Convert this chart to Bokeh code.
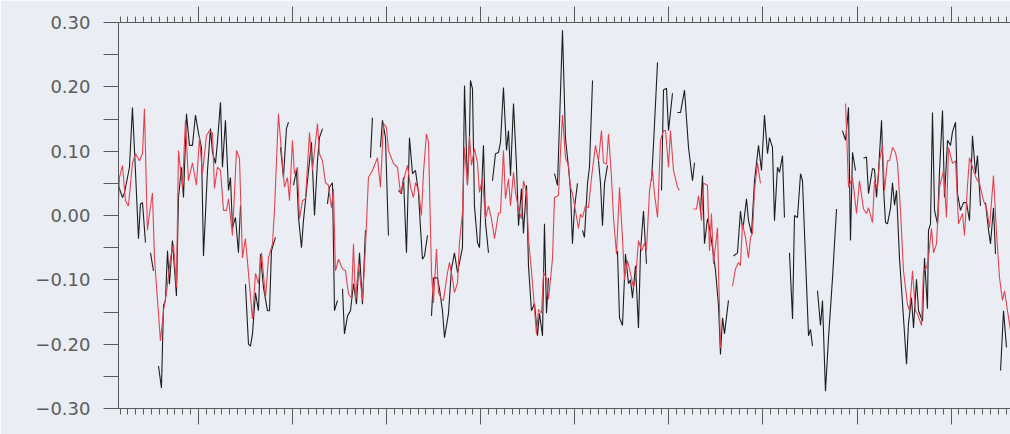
from bokeh.plotting import figure
from bokeh.models import Range1d, LinearAxis, FixedTicker, CustomJSTickFormatter
from bokeh.embed import file_html
from bokeh.resources import INLINE

# ---- data: time in months after first major (year) tick, anomaly values ----
black_t = [
    [-10.20, -9.69, -9.44, -8.80, -8.42, -8.04, -7.65, -7.40, -7.14, -6.76],
    [-6.12, -5.74],
    [-5.10, -4.72, -4.46, -4.21, -3.95, -3.70, -3.32, -2.81, -2.55, -2.17,
     -1.91, -1.53, -1.15, -0.77, -0.38, 0.00, 0.38, 0.64, 1.15, 1.53,
     1.79, 2.17, 2.42, 2.81, 3.06, 3.44, 3.83, 4.08, 4.34, 4.72, 5.10, 5.36],
    [5.99, 6.38, 6.63, 6.89, 7.27, 7.65, 7.91, 8.29, 8.80, 9.06, 9.31, 9.82],
    [10.46, 10.84, 11.22, 11.48],
    [12.12, 12.50, 12.76, 13.14, 13.39, 13.78, 14.41, 14.80, 15.18, 15.43, 15.82],
    [16.45, 16.71, 17.09, 17.35, 17.73],
    [18.37, 18.62, 19.01, 19.39, 19.77, 20.15, 20.54, 20.92, 21.30],
    [21.94, 22.19],
    [23.21, 23.47, 23.85, 24.23],
    [25.51, 25.89, 26.15, 26.53, 26.91, 27.30, 27.68, 28.06, 28.32, 28.57, 28.83, 29.21],
    [29.72, 29.97, 30.48, 30.74, 31.12, 31.38, 31.89, 32.27, 32.65, 33.04,
     33.67, 33.93, 34.31, 34.57, 34.69, 34.95, 35.20, 35.59, 35.84, 36.22,
     36.35, 36.61, 36.99],
    [37.50, 37.88, 38.27, 38.52, 38.90, 39.29, 39.54, 39.80, 40.18, 40.56,
     40.82, 41.20, 41.45, 41.84, 42.09, 42.47, 42.86, 43.24, 43.49, 43.88,
     44.13, 44.39, 44.64],
    [45.41, 45.79, 46.05, 46.43, 46.81, 47.19, 47.45, 47.70, 47.96, 48.34],
    [48.98, 49.23, 49.62, 49.87, 50.26],
    [51.02, 51.28, 51.53, 51.79, 52.17],
    [53.44, 53.70, 54.08, 54.46, 54.85, 55.10, 55.36, 55.74, 56.12, 56.38, 56.76, 57.14],
    [57.78, 58.04, 58.55],
    [59.06, 59.31, 59.69, 59.95, 60.46],
    [61.10, 61.48, 61.99, 62.50, 63.01, 63.27],
    [64.03, 64.29, 64.54, 64.92, 65.18, 65.56, 65.94, 66.33, 66.58, 66.84, 67.09, 67.60],
    [68.24, 68.75, 69.13, 69.39, 69.52, 69.90, 70.15, 70.54, 70.92, 71.43,
     71.81, 72.19, 72.58, 72.83, 73.21, 73.47, 73.85, 74.11, 74.49, 74.74],
    [75.38, 75.77, 76.02, 76.40, 76.79, 77.04, 77.42, 77.81, 78.06, 78.32],
    [78.95, 79.34, 79.59, 79.97, 80.36, 80.87, 81.38],
    [82.14, 82.53, 82.91, 83.16, 83.42, 83.80],
    [84.82, 85.20, 85.46, 85.97, 86.22, 86.48, 86.73, 87.12, 87.37, 87.63,
     87.88, 88.27, 88.52, 88.78, 89.03, 89.41, 89.92, 90.31, 90.56, 90.94,
     91.20, 91.58, 91.84, 92.35, 92.60, 92.98, 93.11, 93.37, 93.62, 93.88,
     94.26, 94.52, 94.90, 95.15, 95.54, 95.92, 96.17, 96.56, 96.81, 97.19,
     97.58, 97.96, 98.34, 98.72, 99.11, 99.36, 99.74],
    [100.38, 100.77, 101.02, 101.40, 101.66],
    [102.30, 102.68, 103.06],
]
black_v = [
    [0.046, 0.028, 0.035, 0.075, 0.168, 0.070, -0.036, 0.018, 0.020, -0.042],
    [-0.058, -0.086],
    [-0.234, -0.268, -0.140, -0.132, -0.055, -0.107, -0.039, -0.125, 0.028, 0.075,
     0.028, 0.158, 0.109, 0.109, 0.156, 0.128, 0.106, -0.063, 0.070, 0.135,
     0.098, 0.081, 0.114, 0.176, 0.075, 0.148, 0.039, 0.059, -0.019, -0.003, -0.058, 0.015],
    [-0.107, -0.200, -0.203, -0.184, -0.120, -0.148, -0.060, -0.112, -0.148, -0.148, -0.055, -0.034],
    [0.106, 0.059, 0.135, 0.145],
    [0.047, 0.070, -0.003, -0.050, -0.008, 0.039, 0.114, 0.000, 0.085, 0.121, 0.135],
    [0.018, 0.044, 0.051, -0.148, -0.132],
    [-0.114, -0.184, -0.156, -0.148, -0.106, -0.138, -0.058, -0.138, -0.023],
    [0.090, 0.152],
    [0.106, 0.148, 0.121, -0.031],
    [0.039, 0.034, 0.059, -0.058, 0.121, 0.065, 0.070, 0.036, -0.020, -0.068, -0.063, -0.031],
    [-0.156, -0.097, -0.097, -0.114, -0.148, -0.190, -0.152, -0.083, -0.058, -0.089,
     -0.050, 0.202, 0.047, 0.124, 0.210, 0.197, 0.015, -0.042, -0.050, 0.073,
     0.109, -0.011, -0.058],
    [0.054, 0.096, 0.098, 0.114, 0.199, 0.101, 0.132, 0.062, 0.174, 0.078,
     -0.016, 0.042, -0.028, 0.047, -0.078, -0.148, -0.137, -0.187, -0.152, -0.187,
     -0.013, -0.152, -0.097],
    [0.065, 0.047, 0.145, 0.288, 0.120, 0.075, 0.039, -0.044, 0.012, 0.050],
    [-0.023, -0.034, 0.050, 0.075, 0.210],
    [0.085, 0.050, -0.016, 0.050, 0.078],
    [-0.055, -0.159, -0.171, -0.060, -0.106, -0.100, -0.128, -0.078, -0.175, -0.055, 0.007, -0.075],
    [0.054, 0.111, 0.238],
    [0.039, 0.195, 0.198, 0.132, 0.190],
    [0.160, 0.160, 0.195, 0.106, 0.054, 0.082],
    [0.007, 0.062, -0.044, -0.005, -0.019, -0.050, -0.085, -0.140, -0.216, -0.159, -0.184, -0.132],
    [-0.063, -0.058, 0.007, -0.020, -0.013, 0.026, -0.008, -0.028, 0.054, 0.109,
     0.070, 0.156, 0.096, 0.121, 0.106, -0.008, 0.075, 0.067, 0.093, -0.003],
    [-0.058, -0.161, 0.000, -0.003, 0.065, 0.054, -0.066, -0.187, -0.177, -0.203],
    [-0.117, -0.171, -0.132, -0.273, -0.190, -0.097, 0.010],
    [0.132, 0.117, 0.168, -0.039, 0.098, 0.070],
    [0.089, 0.091, 0.034, 0.073, 0.072, 0.028, 0.067, 0.148, 0.044, -0.011,
     -0.013, 0.012, 0.051, 0.016, 0.039, -0.066, -0.159, -0.231, -0.168, -0.128,
     -0.175, -0.099, -0.148, -0.164, -0.066, -0.145, -0.023, -0.013, 0.160, 0.008,
     -0.013, 0.070, 0.163, 0.028, 0.117, 0.109, 0.130, 0.145, 0.034, 0.008,
     0.020, 0.020, -0.008, 0.124, 0.065, 0.093, 0.015],
    [0.020, -0.023, -0.044, 0.012, -0.060],
    [-0.241, -0.148, -0.205],
]

red_t = [
    [-10.20, -10.08, -9.69, -9.31, -8.93, -8.42, -8.04, -7.53, -7.14, -6.89,
     -6.51, -6.25, -5.87, -5.61, -4.85, -4.46, -4.08, -3.57, -3.19, -2.81,
     -2.55, -2.04, -1.66, -1.28, -0.77, -0.26, 0.13, 0.51, 1.02, 1.40,
     1.79, 2.04, 2.42, 2.81, 3.19, 3.57, 3.83, 4.34, 4.85, 5.23,
     5.61, 5.99, 6.38, 6.89, 7.27, 7.65, 8.04, 8.55, 8.93, 9.44,
     9.69, 10.20, 10.71, 10.97, 11.35, 11.61, 11.99, 12.24, 12.63, 12.88,
     13.27, 13.65, 14.16, 14.54, 15.18, 15.43, 15.82, 16.20, 16.58, 16.96,
     17.22, 17.47, 17.86, 18.37, 18.75, 19.13, 19.52, 19.77, 20.03, 20.41,
     20.92, 21.30, 21.68, 22.19, 22.83, 23.21, 23.60, 23.98, 24.23, 24.87,
     25.38, 25.77, 26.15, 26.66, 27.04, 27.42, 27.68, 28.06, 28.44, 28.70,
     29.08, 29.34, 29.72, 29.97, 30.36, 30.61, 30.99, 31.25, 31.76, 32.02,
     32.40, 32.65, 33.04, 33.29, 33.67, 33.93, 34.31, 34.57, 34.82, 35.20,
     35.59, 35.84, 36.22, 36.61, 36.99, 37.37, 37.76, 38.27, 38.52, 38.90,
     39.16, 39.54, 39.80, 40.18, 40.43, 40.82, 41.20, 41.45, 41.84, 42.09,
     42.47, 42.73, 43.11, 43.37, 43.75, 44.01, 44.39, 44.64, 45.15, 45.41,
     45.92, 46.17, 46.43, 46.81, 47.19, 47.45, 47.70, 48.09, 48.47, 48.72,
     48.98, 49.36, 49.74, 50.13, 50.64, 51.02, 51.40, 51.66, 52.04, 52.30,
     52.68, 52.93, 53.32, 53.70, 54.08, 54.34, 54.72, 55.10, 55.48, 55.74,
     56.12, 56.51, 56.89, 57.14, 57.53, 57.91, 58.16, 58.55, 58.93, 59.31,
     59.57, 59.95, 60.20, 60.59, 61.10, 61.35],
    [63.14, 63.52, 63.78, 64.16, 64.41, 64.92, 65.18, 65.43, 65.69, 66.20, 66.33, 66.58],
    [68.11, 68.49, 68.88, 69.13, 69.39, 69.77, 70.15, 70.41, 70.66, 70.92, 71.30, 71.68],
    [82.53, 82.91, 83.42, 83.93, 84.31, 84.82, 85.20, 85.46, 85.97, 86.22,
     86.61, 86.86, 87.24, 87.50, 87.88, 88.14, 88.52, 88.90, 89.16, 89.54,
     89.92, 90.43, 90.69, 91.07, 91.45, 91.71, 92.22, 92.47, 92.86, 93.11,
     93.49, 93.75, 94.13, 94.52, 95.03, 95.41, 95.66, 96.17, 96.56, 96.94,
     97.45, 97.70, 98.09, 98.34, 98.85, 99.23, 99.62, 100.13, 100.51, 100.89,
     101.40, 101.79, 102.17, 102.55, 102.81, 103.19, 103.57],
]
red_v = [
    [0.023, 0.059, 0.078, 0.023, 0.015, 0.081, 0.096, 0.085, 0.096, 0.166,
     -0.023, 0.003, 0.035, -0.066, -0.195, -0.148, -0.120, -0.066, -0.044, -0.112,
     0.101, 0.043, 0.148, 0.054, 0.082, 0.047, 0.121, 0.065, 0.124, 0.132,
     0.128, 0.042, 0.075, 0.070, 0.008, 0.008, 0.026, -0.031, 0.101, 0.089,
     -0.066, -0.036, -0.090, -0.161, -0.090, -0.106, -0.058, -0.128, -0.066, -0.044,
     0.007, 0.158, 0.081, 0.044, 0.059, 0.023, 0.117, 0.065, 0.075, -0.005,
     0.023, 0.026, 0.129, 0.070, 0.143, 0.096, 0.085, 0.051, 0.047, 0.012,
     0.041, -0.086, -0.068, -0.083, -0.086, -0.122, -0.128, -0.044, -0.132, -0.075,
     -0.132, -0.050, 0.059, 0.070, 0.090, 0.044, 0.143, 0.137, 0.101, 0.081,
     0.075, 0.034, 0.054, 0.078, 0.044, 0.028, 0.051, 0.040, 0.000, 0.067,
     0.127, 0.114, -0.089, -0.136, -0.052, -0.120, -0.130, -0.132, -0.089, -0.073,
     -0.098, -0.120, -0.105, -0.042, 0.004, 0.106, 0.047, 0.124, 0.078, 0.104,
     0.082, 0.036, 0.057, -0.005, 0.015, -0.005, -0.036, 0.004, 0.004, 0.101,
     0.026, 0.057, 0.015, 0.067, 0.036, 0.010, -0.005, 0.054, 0.036, -0.036,
     -0.086, -0.125, -0.184, -0.146, -0.152, -0.089, -0.098, -0.130, -0.068, 0.028,
     0.031, 0.098, 0.156, 0.090, 0.078, 0.044, 0.034, 0.007, -0.020, 0.002,
     -0.003, 0.015, 0.012, 0.059, 0.109, 0.085, 0.132, 0.082, 0.080, 0.127,
     0.059, -0.003, -0.060, 0.044, -0.034, -0.100, -0.070, -0.090, -0.112, -0.100,
     -0.039, -0.055, -0.043, -0.055, 0.039, 0.070, 0.034, -0.003, 0.117, 0.132,
     0.132, 0.075, 0.132, 0.070, 0.044, 0.039],
    [0.010, 0.010, 0.031, -0.008, 0.050, 0.047, -0.055, 0.003, -0.075, -0.019, -0.086, -0.206],
    [-0.110, -0.083, -0.073, -0.078, -0.013, -0.034, -0.066, -0.034, -0.028, 0.039, 0.082, 0.050],
    [0.174, 0.044, 0.059, 0.003, 0.054, 0.010, 0.003, 0.012, -0.011, 0.054,
     0.042, 0.085, 0.109, 0.039, 0.085, 0.085, 0.106, 0.098, 0.081, 0.008,
     -0.086, -0.138, -0.148, -0.086, -0.148, -0.153, -0.171, -0.086, -0.081, -0.066,
     -0.020, -0.058, -0.044, 0.044, 0.070, -0.003, 0.106, 0.081, 0.085, -0.013,
     0.003, -0.031, 0.047, 0.090, 0.070, 0.057, 0.050, 0.023, 0.012, -0.019,
     0.062, -0.028, -0.097, -0.132, -0.117, -0.148, -0.179],
]

year_ticks = [0, 12, 24, 36, 48, 60, 72, 84, 96]
month_ticks = list(range(-10, 104))
y_ticks = [-0.30, -0.20, -0.10, 0.00, 0.10, 0.20, 0.30]
y_minor = [-0.25, -0.15, -0.05, 0.05, 0.15, 0.25]

BG = "#ebedf5"
AX = "#5a5a5a"

p = figure(width=1010, height=434, output_backend="svg", toolbar_location=None,
           x_range=Range1d(-10.2, 103.57), y_range=Range1d(-0.30, 0.30),
           x_axis_type=None, y_axis_type=None,
           min_border_left=118, min_border_right=0,
           min_border_top=22, min_border_bottom=26)
p.outline_line_color = None
p.background_fill_color = BG
p.border_fill_color = BG

# left axis
ya = LinearAxis(ticker=FixedTicker(ticks=y_ticks, minor_ticks=y_minor),
                formatter=CustomJSTickFormatter(code="""
                    const s = Math.abs(tick).toFixed(2);
                    return (tick < -1e-9 ? '\\u2212' : '') + s;"""))
ya.axis_line_color = AX
ya.major_tick_line_color = AX
ya.minor_tick_line_color = AX
ya.major_tick_in = 0
ya.major_tick_out = 15
ya.minor_tick_in = 0
ya.minor_tick_out = 15
ya.major_label_standoff = 13
ya.major_label_text_font = "DejaVu Sans"
ya.major_label_text_font_size = "18px"
ya.major_label_text_color = "#5c5c5c"
p.add_layout(ya, "left")

for loc in ("above", "below"):
    xa = LinearAxis(ticker=FixedTicker(ticks=year_ticks, minor_ticks=month_ticks),
                    formatter=CustomJSTickFormatter(code="return '';"))
    xa.axis_line_color = AX
    xa.major_tick_line_color = AX
    xa.minor_tick_line_color = AX
    xa.major_tick_in = 0
    xa.major_tick_out = 16
    xa.minor_tick_in = 0
    xa.minor_tick_out = 6
    xa.major_label_standoff = 0
    xa.major_label_text_font_size = "1px"
    p.add_layout(xa, loc)

p.multi_line(xs=black_t, ys=black_v, line_color="#1e1e1e", line_width=1.1)
p.multi_line(xs=red_t, ys=red_v, line_color="#e2444f", line_width=1.1)

open("out.html", "w").write(file_html(p, INLINE))
